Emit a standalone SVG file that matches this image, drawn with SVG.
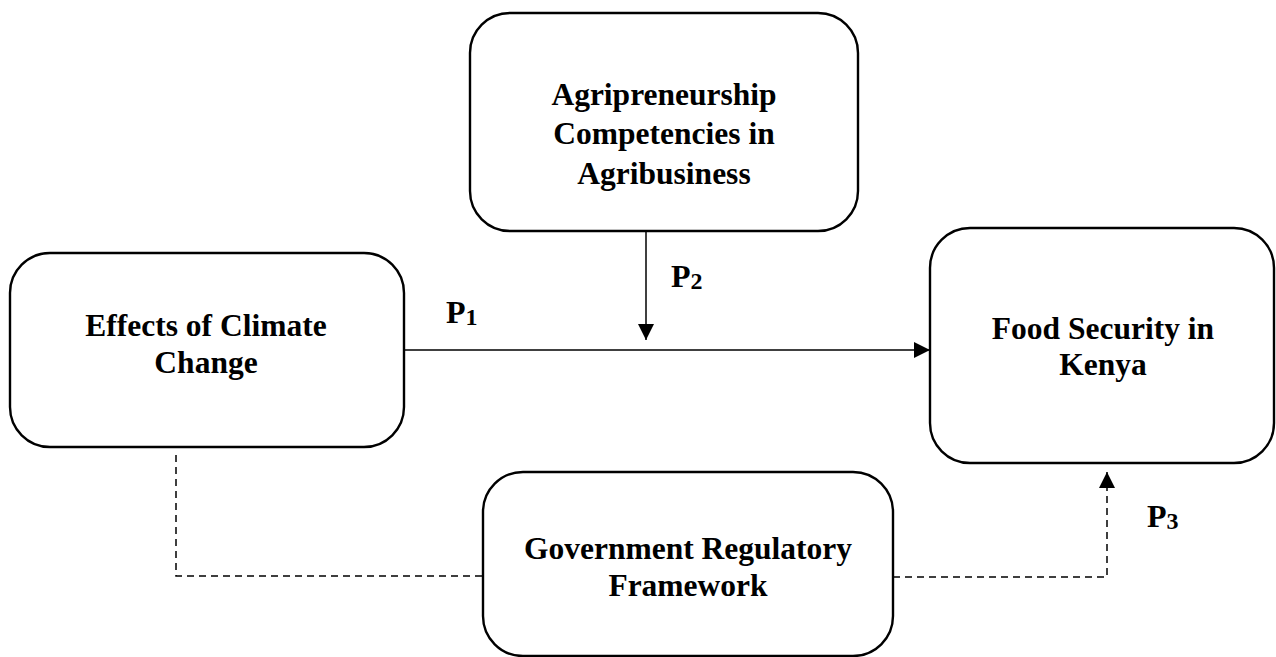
<svg xmlns="http://www.w3.org/2000/svg" width="1276" height="657" viewBox="0 0 1276 657">
<style>
.box{fill:#fff;stroke:#000;stroke-width:2.4}
.t{font-family:"Liberation Serif","Times New Roman",serif;font-weight:bold;font-size:31.5px;fill:#000;text-anchor:middle}
.p{font-family:"Liberation Serif","Times New Roman",serif;font-weight:bold;font-size:32px;fill:#000}
.sub{font-size:24px}
.ln{fill:none;stroke:#000;stroke-width:1.5}
.dash{fill:none;stroke:#000;stroke-width:1.5;stroke-dasharray:7,5}
</style>
<defs>
<marker id="ah" viewBox="0 0 16 16" refX="16" refY="8" markerWidth="16" markerHeight="16" markerUnits="userSpaceOnUse" orient="auto">
<path d="M0,0 L16,8 L0,16 z" fill="#000"/>
</marker>
</defs>
<rect width="1276" height="657" fill="#fff"/>
<g id="connectors">
<line class="ln" x1="404" y1="350" x2="930" y2="350" marker-end="url(#ah)"/>
<line class="ln" x1="646" y1="231" x2="646" y2="340" marker-end="url(#ah)"/>
<polyline class="dash" points="176,455 176,576 483,576"/>
<polyline class="dash" points="893,577 1107,577 1107,472" marker-end="url(#ah)"/>
</g>
<g id="node-agri">
<rect class="box" x="470" y="13" width="388" height="218" rx="40" ry="40"/>
<text class="t" x="664" y="105">Agripreneurship</text>
<text class="t" x="664" y="144">Competencies in</text>
<text class="t" x="664" y="184">Agribusiness</text>
</g>
<g id="node-effects">
<rect class="box" x="10" y="253" width="394" height="194" rx="40" ry="40"/>
<text class="t" x="206" y="336">Effects of Climate</text>
<text class="t" x="206" y="373">Change</text>
</g>
<g id="node-food">
<rect class="box" x="930" y="228" width="344" height="235" rx="40" ry="40"/>
<text class="t" x="1103" y="339">Food Security in</text>
<text class="t" x="1103" y="375">Kenya</text>
</g>
<g id="node-gov">
<rect class="box" x="483" y="472" width="410" height="184" rx="40" ry="40"/>
<text class="t" x="688" y="559">Government Regulatory</text>
<text class="t" x="688" y="596">Framework</text>
</g>
<g id="labels">
<text class="p" x="446" y="323">P<tspan class="sub" dy="2">1</tspan></text>
<text class="p" x="671" y="287">P<tspan class="sub" dy="2">2</tspan></text>
<text class="p" x="1147" y="527">P<tspan class="sub" dy="2">3</tspan></text>
</g>
</svg>
